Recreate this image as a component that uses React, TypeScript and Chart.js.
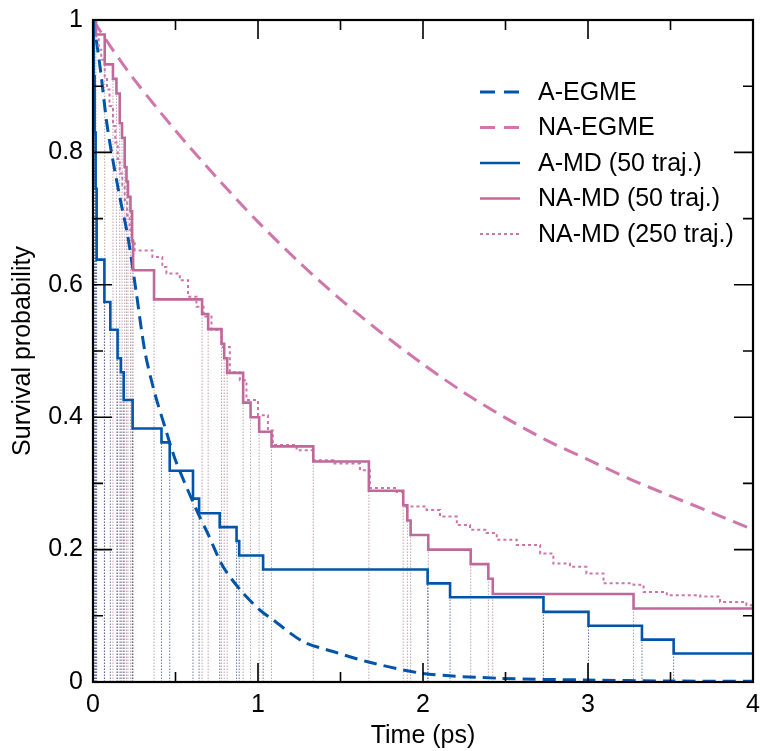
import React, { useEffect, useRef } from "react";
import { Chart, registerables } from "chart.js";

Chart.register(...registerables);

// ---------------- data ----------------
const xTickValues = [0, 1, 2, 3, 4];
const xTickLabels = ["0", "1", "2", "3", "4"];
const xMinorTicks = [0.5, 1.5, 2.5, 3.5];
const yTickValues = [0, 0.2, 0.4, 0.6, 0.8, 1];
const yTickLabels = ["0", "0.2", "0.4", "0.6", "0.8", "1"];
const yMinorTicks = [0.1, 0.3, 0.5, 0.7, 0.9];

const aEgmeTime = [0, 0.02, 0.05, 0.081, 0.112, 0.162, 0.212, 0.263, 0.314, 0.37, 0.435, 0.5, 0.627, 0.7, 0.789, 0.9, 1.01, 1.09, 1.274, 1.455, 1.658, 2.0, 2.467, 3.0, 3.5, 4.0];
const aEgmeSurv = [1, 0.97, 0.915, 0.849, 0.8, 0.733, 0.672, 0.587, 0.5, 0.44, 0.386, 0.335, 0.26, 0.222, 0.174, 0.137, 0.109, 0.094, 0.061, 0.046, 0.031, 0.013, 0.0056, 0.003, 0.0015, 0.001];

const naEgmeTime = [0, 0.12, 0.25, 0.5, 0.75, 1.0, 1.25, 1.5, 1.75, 2.0, 2.25, 2.5, 2.75, 3.0, 3.25, 3.5, 3.75, 4.0];
const naEgmeSurv = [1, 0.955, 0.91, 0.833, 0.762, 0.695, 0.634, 0.578, 0.527, 0.48, 0.437, 0.399, 0.365, 0.336, 0.307, 0.281, 0.256, 0.23];

const aMd50Time = [0, 0.005, 0.01, 0.016, 0.022, 0.069, 0.105, 0.149, 0.169, 0.186, 0.24, 0.415, 0.465, 0.606, 0.643, 0.768, 0.87, 0.886, 1.031, 2.028, 2.164, 2.73, 3.003, 3.327, 3.519, 4.0];
const aMd50Surv = [1, 0.915, 0.83, 0.745, 0.638, 0.574, 0.532, 0.489, 0.468, 0.426, 0.383, 0.362, 0.319, 0.277, 0.255, 0.234, 0.213, 0.191, 0.17, 0.149, 0.128, 0.106, 0.085, 0.064, 0.043, 0.043];

const naMd50Time = [0, 0.018, 0.071, 0.121, 0.142, 0.162, 0.176, 0.192, 0.203, 0.212, 0.227, 0.237, 0.243, 0.37, 0.661, 0.698, 0.779, 0.795, 0.813, 0.91, 0.955, 1.007, 1.082, 1.335, 1.672, 1.88, 1.905, 1.925, 2.032, 2.289, 2.396, 2.423, 3.276, 4.0];
const naMd50Surv = [1, 0.978, 0.933, 0.911, 0.889, 0.844, 0.822, 0.778, 0.756, 0.733, 0.711, 0.667, 0.622, 0.578, 0.556, 0.533, 0.511, 0.489, 0.467, 0.422, 0.4, 0.378, 0.356, 0.333, 0.289, 0.267, 0.244, 0.222, 0.2, 0.178, 0.156, 0.133, 0.111, 0.111];

const naMd250Time = [0, 0.01, 0.02, 0.035, 0.05, 0.071, 0.085, 0.1, 0.121, 0.135, 0.15, 0.162, 0.178, 0.192, 0.207, 0.222, 0.237, 0.253, 0.36, 0.42, 0.445, 0.526, 0.576, 0.627, 0.67, 0.718, 0.779, 0.829, 0.89, 0.93, 1.0, 1.06, 1.09, 1.234, 1.335, 1.456, 1.618, 1.678, 1.84, 1.88, 2.022, 2.103, 2.205, 2.285, 2.386, 2.447, 2.568, 2.71, 2.79, 2.89, 2.99, 3.094, 3.276, 3.337, 3.478, 3.68, 3.8, 3.96, 4.0];
const naMd250Surv = [1, 0.99, 0.975, 0.955, 0.94, 0.915, 0.895, 0.87, 0.84, 0.815, 0.79, 0.768, 0.748, 0.728, 0.705, 0.683, 0.665, 0.652, 0.642, 0.627, 0.617, 0.607, 0.582, 0.567, 0.552, 0.532, 0.506, 0.468, 0.456, 0.426, 0.403, 0.38, 0.358, 0.35, 0.335, 0.33, 0.32, 0.293, 0.287, 0.265, 0.26, 0.25, 0.237, 0.23, 0.225, 0.215, 0.207, 0.194, 0.179, 0.174, 0.164, 0.149, 0.147, 0.136, 0.131, 0.129, 0.121, 0.116, 0.114];

const seriesLabels = ["A-EGME", "NA-EGME", "A-MD (50 traj.)", "NA-MD (50 traj.)", "NA-MD (250 traj.)"];

// ---------------- styles ----------------
const BLUE = "rgb(0,84,170)";
const PINK = "rgb(192,104,154)";
const PINK_DASH = "rgb(208,118,170)";
const PINK_DOT = "rgb(206,116,170)";
const FONT = "'Liberation Sans', Arial, Helvetica, sans-serif";

const toPoints = (t: number[], s: number[]) => t.map((x, i) => ({ x, y: s[i] }));

const dropLines = (t: number[], s: number[]) => {
  const pts: { x: number; y: number | null }[] = [];
  for (let i = 1; i < t.length - 1; i++) {
    pts.push({ x: t[i], y: 0 }, { x: t[i], y: s[i] }, { x: t[i], y: null });
  }
  return pts;
};

const frameTicksPlugin = {
  id: "frameTicks",
  afterDatasetsDraw(chart: any) {
    const { ctx, chartArea: a, scales } = chart;
    const x = scales.x;
    const y = scales.y;
    ctx.save();
    ctx.strokeStyle = "#000";
    ctx.lineWidth = 1.6;
    const major = 19;
    const minor = 10;
    const drawX = (v: number, len: number) => {
      const px = x.getPixelForValue(v);
      ctx.beginPath();
      ctx.moveTo(px, a.bottom);
      ctx.lineTo(px, a.bottom - len);
      ctx.moveTo(px, a.top);
      ctx.lineTo(px, a.top + len);
      ctx.stroke();
    };
    const drawY = (v: number, len: number) => {
      const py = y.getPixelForValue(v);
      ctx.beginPath();
      ctx.moveTo(a.left, py);
      ctx.lineTo(a.left + len, py);
      ctx.moveTo(a.right, py);
      ctx.lineTo(a.right - len, py);
      ctx.stroke();
    };
    xTickValues.forEach((v) => drawX(v, major));
    xMinorTicks.forEach((v) => drawX(v, minor));
    yTickValues.forEach((v) => drawY(v, major));
    yMinorTicks.forEach((v) => drawY(v, minor));
    ctx.lineWidth = 2.2;
    ctx.strokeRect(a.left, a.top, a.right - a.left, a.bottom - a.top);
    ctx.restore();
  },
};

const legendPlugin = {
  id: "insideLegend",
  afterDraw(chart: any) {
    const { ctx, chartArea: a } = chart;
    const items = chart.data.datasets.filter((d: any) => d.inLegend);
    ctx.save();
    ctx.font = `25px ${FONT}`;
    ctx.textBaseline = "middle";
    ctx.textAlign = "left";
    items.forEach((d: any, i: number) => {
      const yy = a.top + 72 + i * 35.5;
      const x0 = a.left + 387;
      ctx.beginPath();
      ctx.strokeStyle = d.borderColor;
      ctx.lineWidth = d.borderWidth;
      ctx.setLineDash(d.legendDash || []);
      ctx.moveTo(x0, yy);
      ctx.lineTo(x0 + 40, yy);
      ctx.stroke();
      ctx.setLineDash([]);
      ctx.fillStyle = "#000";
      ctx.fillText(d.label, x0 + 58, yy + 1);
    });
    ctx.restore();
  },
};

export default function App() {
  const ref = useRef<HTMLCanvasElement | null>(null);
  useEffect(() => {
    if (!ref.current) return;
    const chart = new Chart(ref.current, {
      type: "line",
      data: {
        datasets: [
          {
            label: seriesLabels[0],
            data: toPoints(aEgmeTime, aEgmeSurv),
            borderColor: BLUE,
            borderWidth: 3,
            borderDash: [13, 7],
            legendDash: [15, 9],
            inLegend: true,
            pointRadius: 0,
            tension: 0.3,
            order: 2,
          } as any,
          {
            label: seriesLabels[1],
            data: toPoints(naEgmeTime, naEgmeSurv),
            borderColor: PINK_DASH,
            borderWidth: 3,
            borderDash: [15, 8],
            legendDash: [15, 9],
            inLegend: true,
            pointRadius: 0,
            tension: 0.3,
            order: 2,
          },
          {
            label: seriesLabels[2],
            data: toPoints(aMd50Time, aMd50Surv),
            borderColor: BLUE,
            borderWidth: 2.6,
            stepped: true,
            inLegend: true,
            pointRadius: 0,
            order: 1,
          },
          {
            label: seriesLabels[3],
            data: toPoints(naMd50Time, naMd50Surv),
            borderColor: PINK,
            borderWidth: 2.6,
            stepped: true,
            inLegend: true,
            pointRadius: 0,
            order: 1,
          },
          {
            label: seriesLabels[4],
            data: toPoints(naMd250Time, naMd250Surv),
            borderColor: PINK_DOT,
            borderWidth: 2,
            borderDash: [3, 3],
            legendDash: [3, 3],
            stepped: true,
            inLegend: true,
            pointRadius: 0,
            order: 1,
          },
          {
            label: "A drops",
            data: dropLines(aMd50Time, aMd50Surv),
            borderColor: "rgba(25,50,115,0.65)",
            borderWidth: 1,
            borderDash: [1.5, 1.5],
            pointRadius: 0,
            spanGaps: false,
            order: 10,
          },
          {
            label: "NA drops",
            data: dropLines(naMd50Time, naMd50Surv),
            borderColor: "rgba(140,85,110,0.55)",
            borderWidth: 1,
            borderDash: [1.5, 1.5],
            pointRadius: 0,
            spanGaps: false,
            order: 10,
          },
        ],
      },
      options: {
        animation: false,
        responsive: false,
        devicePixelRatio: 1,
        parsing: true,
        layout: { padding: { left: 0, right: 7, top: 20, bottom: 0 } },
        plugins: {
          legend: { display: false },
          tooltip: { enabled: false },
        },
        scales: {
          x: {
            type: "linear",
            min: 0,
            max: 4,
            afterBuildTicks: (s: any) => {
              s.ticks = xTickValues.map((v) => ({ value: v }));
            },
            afterFit: (s: any) => {
              s.height = 69;
              s.paddingLeft = 0;
              s.paddingRight = 0;
            },
            grid: { display: false, drawTicks: false, tickLength: 0 },
            border: { display: false },
            ticks: {
              color: "#000",
              padding: 8,
              maxRotation: 0,
              font: { family: FONT, size: 25 },
              callback: (_v: any, i: number) => xTickLabels[i],
            },
            title: {
              display: true,
              text: "Time (ps)",
              color: "#000",
              font: { family: FONT, size: 25 },
              padding: { top: 0, bottom: 0 },
            },
          },
          y: {
            type: "linear",
            min: 0,
            max: 1,
            afterBuildTicks: (s: any) => {
              s.ticks = yTickValues.map((v) => ({ value: v }));
            },
            afterFit: (s: any) => {
              s.width = 93;
              s.paddingTop = 0;
              s.paddingBottom = 0;
            },
            grid: { display: false, drawTicks: false, tickLength: 0 },
            border: { display: false },
            ticks: {
              color: "#000",
              padding: 10,
              font: { family: FONT, size: 25 },
              callback: (_v: any, i: number) => yTickLabels[i],
            },
            title: {
              display: true,
              text: "Survival probability",
              color: "#000",
              font: { family: FONT, size: 25 },
              padding: { top: 8, bottom: 0 },
            },
          },
        },
      } as any,
      plugins: [frameTicksPlugin, legendPlugin],
    });
    return () => chart.destroy();
  }, []);

  return (
    <div style={{ position: "fixed", left: 0, top: 0, width: 760, height: 751, background: "#fff" }}>
      <canvas ref={ref} width={760} height={751} style={{ display: "block" }} />
    </div>
  );
}
